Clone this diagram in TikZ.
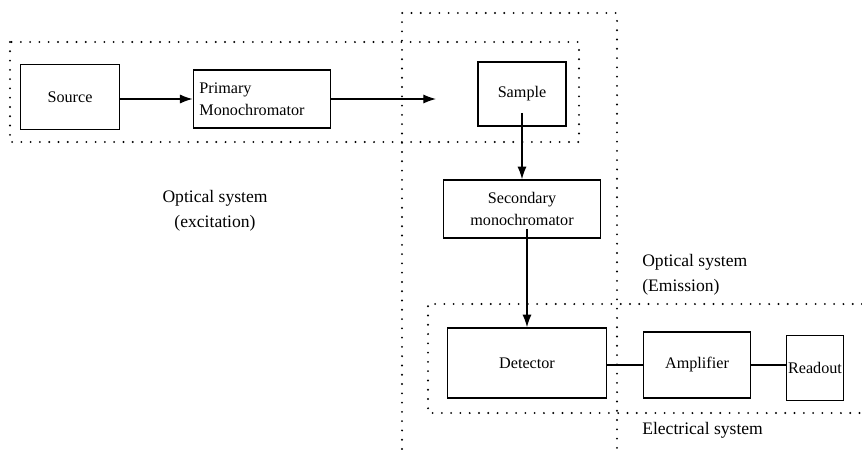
\documentclass[tikz,border=0pt]{standalone}
\usepackage{fontspec}
\setmainfont{Liberation Serif}
\usetikzlibrary{arrows.meta}
\tikzset{
  block/.style={
    draw,
    line width = 1.1pt,
    align = center,
    inner sep = 0.1cm,
    font = \fontsize{11.5}{16}\selectfont
  },
  region/.style={
    line width = 1.5pt,
    line cap = round,
    dash pattern = on 0pt off 6.6pt
  },
  flow/.style={
    line width = 0.9pt,
    -{Latex[length=9pt,width=6.5pt]}
  },
  systxt/.style={
    inner sep = 0pt,
    font = \fontsize{12.5}{18}\selectfont
  }
}

\begin{document}
\begin{tikzpicture}[x=0.025cm,y=-0.025cm]
	\useasboundingbox (0,0) rectangle (862,449);
	\draw[region] (10,42) rectangle (579,142);
	\draw[region] (402,449) -- (402,13) -- (617,13) -- (617,449);
	\draw[region] (862,304) -- (428,304) -- (428,413) -- (862,413);

	\node[block, minimum width=2.48cm, minimum height=1.63cm] (source) at (70,97) {Source};
	\node[block, align=left, text width=3.13cm, inner xsep=0.15cm, minimum height=1.45cm] (prim) at (262,99) {Primary\\Monochromator};
	\node[block, minimum width=2.2cm, minimum height=1.6cm] (sample) at (522,94) {Sample};
	\node[block, minimum width=3.93cm, minimum height=1.45cm] (sec) at (522,209) {Secondary\\monochromator};
	\node[block, minimum width=3.98cm, minimum height=1.75cm] (det) at (527,363) {Detector};
	\node[block, minimum width=2.68cm, minimum height=1.65cm] (amp) at (697,365) {Amplifier};
	\node[block, inner xsep=1pt, minimum width=1.43cm, minimum height=1.63cm] (readout) at (815,368) {Readout};
	\coordinate (exit) at (436,99);

	\draw[flow] (source.east |- prim.west) -- (prim.west);
	\draw[flow] (prim) -- (exit);
	\draw[flow] ([yshift=0.35cm]sample.south) -- (sec);
	\draw[flow] ([yshift=0.25cm]sec.south -| det.north) -- (det);
	\draw[line width=0.9pt] (amp.west -| det.east) -- (amp.west);
	\draw[line width=0.9pt] (amp.east) -- (amp.east -| readout.west);

	\node[systxt, align=center] (exc) at (215,211) {Optical system\\(excitation)};
	\node[systxt, align=left, anchor=west] (emi) at (642,275) {Optical system\\(Emission)};
	\node[systxt, anchor=west] (elec) at (642,430) {Electrical system};
\end{tikzpicture}
\end{document}
